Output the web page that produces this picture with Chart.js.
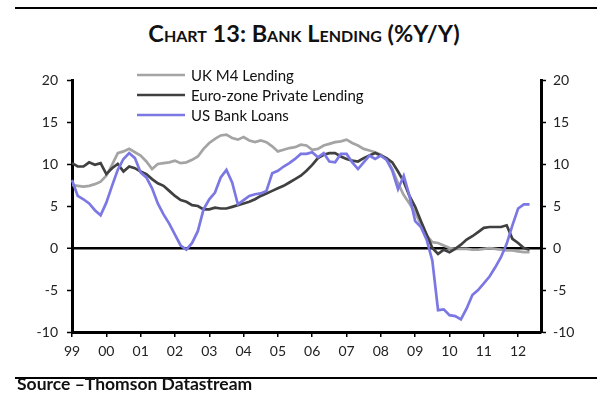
<!DOCTYPE html>
<html>
<head>
<meta charset="utf-8">
<script src="https://cdn.jsdelivr.net/npm/chart.js@4.4.0/dist/chart.umd.min.js"></script>
<style>
  body { margin: 0; background: #fff; }
  .wrap { position: relative; width: 600px; height: 399px; overflow: hidden; }
  .rule { position: absolute; left: 15px; width: 582px; height: 2px; background: #000; }
  .title { position: absolute; top: 19px; left: 4px; width: 600px; text-align: center;
           font: bold 23.5px Lato, sans-serif; font-variant: small-caps; color: #111; }
  .source { position: absolute; left: 17px; top: 373px; font: bold 17.5px Lato, sans-serif; color: #111; }
  canvas { position: absolute; left: 0; top: 0; }
</style>
</head>
<body>
<div class="wrap">
  <div class="rule" style="top:7px"></div>
  <div class="title">Chart 13: Bank Lending (%Y/Y)</div>
  <canvas id="chart" width="600" height="399"></canvas>
  <div class="rule" style="top:377px"></div>
  <div class="source">Source –Thomson Datastream</div>
</div>
<script>
// bi-monthly observations, Jan 1999 .. mid 2012 (% y/y)
const ukM4 = [
  7.5, 7.4, 7.3, 7.4, 7.6, 7.9, 8.6, 9.9, 11.3, 11.5, 11.8, 11.4,
  11.0, 10.3, 9.4, 10.0, 10.1, 10.2, 10.4, 10.1, 10.2, 10.5, 10.9, 11.8,
  12.5, 13.0, 13.4, 13.5, 13.1, 12.9, 13.2, 12.8, 12.6, 12.8, 12.6, 12.1,
  11.5, 11.7, 11.9, 12.0, 12.3, 12.2, 11.7, 11.8, 12.2, 12.4, 12.6, 12.7,
  12.9, 12.5, 12.2, 11.8, 11.6, 11.4, 11.1, 10.6, 9.4, 7.7, 6.3, 5.3,
  4.2, 2.8, 1.5, 0.7, 0.6, 0.3, 0.0, -0.1, -0.1, -0.1, -0.2, -0.2,
  -0.1, 0.0, -0.1, -0.2, -0.3, -0.3, -0.4, -0.5, -0.5
];
const euroZone = [
  10.1, 9.7, 9.7, 10.2, 9.9, 10.1, 8.8, 9.5, 10.0, 9.1, 9.7, 9.5,
  9.1, 8.8, 8.2, 7.7, 7.4, 6.8, 6.2, 5.7, 5.5, 5.1, 5.0, 4.6,
  4.6, 4.8, 4.7, 4.7, 4.9, 5.1, 5.3, 5.5, 5.8, 6.2, 6.5, 6.8,
  7.1, 7.4, 7.8, 8.2, 8.6, 9.2, 9.9, 10.7, 11.1, 11.3, 11.3, 10.9,
  10.6, 10.4, 10.3, 10.7, 11.0, 11.3, 11.0, 10.7, 10.2, 9.1, 7.9, 6.2,
  4.9, 3.2, 1.6, 0.0, -0.7, -0.2, -0.5, -0.1, 0.4, 1.0, 1.4, 1.9,
  2.4, 2.5, 2.5, 2.5, 2.7, 1.1, 0.6, 0.0, -0.2
];
const usBank = [
  8.1, 6.2, 5.8, 5.3, 4.5, 3.9, 5.4, 7.4, 9.3, 10.6, 11.3, 10.7,
  9.0, 8.4, 7.1, 5.3, 4.0, 2.9, 1.6, 0.3, -0.2, 0.6, 2.0, 4.6,
  5.8, 6.6, 8.4, 9.3, 7.8, 5.2, 5.7, 6.2, 6.4, 6.5, 6.8, 8.9,
  9.2, 9.7, 10.1, 10.6, 11.2, 11.2, 11.4, 10.8, 11.3, 10.3, 10.2, 11.2,
  11.2, 10.2, 9.4, 10.2, 11.0, 10.6, 11.0, 10.5, 9.2, 7.0, 8.6, 6.2,
  3.2, 2.5, 1.0, -1.5, -7.4, -7.3, -8.0, -8.1, -8.5, -7.2, -5.6, -5.0,
  -4.2, -3.4, -2.3, -1.1, 0.5, 2.7, 4.7, 5.2, 5.2
];
const seriesNames = ['UK M4 Lending', 'Euro-zone Private Lending', 'US Bank Loans'];
const yTicks = { min: -10, max: 20, step: 5 };

// one label every two months, axis runs to Sep 2012
const periods = [];
for (let i = 0; i < 83; i++) {
  const yr = 1999 + Math.floor(i / 6);
  const mo = (i % 6) * 2 + 1;
  periods.push(yr + '-' + String(mo).padStart(2, '0'));
}

const legendInside = {
  id: 'legendInside',
  afterDraw(chart) {
    const ctx = chart.ctx;
    chart.data.datasets.forEach((ds, i) => {
      const y = 75 + i * 20;
      ctx.save();
      ctx.strokeStyle = ds.borderColor;
      ctx.lineWidth = 2.5;
      ctx.beginPath();
      ctx.moveTo(137, y);
      ctx.lineTo(185, y);
      ctx.stroke();
      ctx.fillStyle = '#111';
      ctx.font = '15px Lato';
      ctx.textBaseline = 'middle';
      ctx.fillText(ds.label, 191, y + 1);
      ctx.restore();
    });
  }
};

const tickFont = { family: 'Lato', size: 14 };

new Chart(document.getElementById('chart'), {
  type: 'line',
  data: {
    labels: periods,
    datasets: [
      { label: seriesNames[0], data: ukM4, borderColor: '#a4a4a4', order: 3 },
      { label: seriesNames[1], data: euroZone, borderColor: '#404040', order: 2 },
      { label: seriesNames[2], data: usBank, borderColor: '#7b78e4', order: 1 }
    ]
  },
  options: {
    responsive: false,
    animation: false,
    layout: { padding: { top: 80, left: 0, right: 0, bottom: 0 } },
    elements: {
      line: { borderWidth: 2.7, tension: 0 },
      point: { radius: 0 }
    },
    plugins: {
      legend: { display: false },
      tooltip: { enabled: false }
    },
    scales: {
      x: {
        offset: false,
        border: { color: '#000', width: 3 },
        grid: { drawOnChartArea: false, color: '#000', lineWidth: 1.5, tickLength: 5 },
        ticks: {
          autoSkip: false, maxRotation: 0, padding: 6, color: '#222', font: tickFont,
          callback(value) {
            const lab = this.getLabelForValue(value);
            return lab.endsWith('-01') ? lab.slice(2, 4) : null;
          }
        },
        afterFit(scale) { scale.height = 67; }
      },
      y: {
        position: 'left',
        min: yTicks.min, max: yTicks.max,
        border: { color: '#000', width: 3 },
        grid: {
          color: c => c.tick && c.tick.value === 0 ? '#000' : 'rgba(0,0,0,0)',
          lineWidth: c => c.tick && c.tick.value === 0 ? 2.5 : 1,
          tickColor: '#000', tickWidth: 1.5, tickLength: 5
        },
        ticks: { stepSize: yTicks.step, padding: 9, color: '#222', font: tickFont },
        afterFit(scale) { scale.width = 72; }
      },
      y2: {
        position: 'right',
        min: yTicks.min, max: yTicks.max,
        border: { color: '#000', width: 3 },
        grid: { drawOnChartArea: false, tickColor: '#000', tickWidth: 1.5, tickLength: 5 },
        ticks: { stepSize: yTicks.step, padding: 7, color: '#222', font: tickFont },
        afterFit(scale) { scale.width = 59; }
      }
    }
  },
  plugins: [legendInside]
});
</script>
</body>
</html>
